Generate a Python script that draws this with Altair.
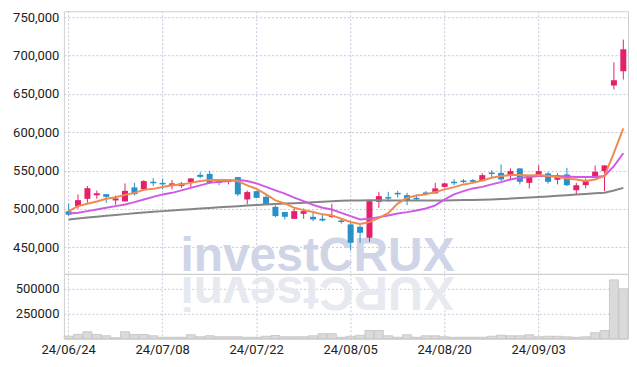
import altair as alt
import pandas as pd

dates = ["24/06/24","24/06/25","24/06/26","24/06/27","24/06/28",
         "24/07/01","24/07/02","24/07/03","24/07/04","24/07/05",
         "24/07/08","24/07/09","24/07/10","24/07/11","24/07/12",
         "24/07/15","24/07/16","24/07/17","24/07/18","24/07/19",
         "24/07/22","24/07/23","24/07/24","24/07/25","24/07/26",
         "24/07/29","24/07/30","24/07/31","24/08/01","24/08/02",
         "24/08/05","24/08/06","24/08/07","24/08/08","24/08/09",
         "24/08/12","24/08/13","24/08/14","24/08/16","24/08/19",
         "24/08/20","24/08/21","24/08/22","24/08/23","24/08/26",
         "24/08/27","24/08/28","24/08/29","24/08/30","24/09/02",
         "24/09/03","24/09/04","24/09/05","24/09/06","24/09/09",
         "24/09/10","24/09/11","24/09/12","24/09/13","24/09/19"]

opens = [497000,503700,513200,518000,519300,511100,509800,528100,525500,535500,
         534000,529800,529800,535000,544500,545800,536000,535400,541500,512400,
         523200,515800,502800,496000,487200,493700,489800,487200,489500,485000,
         479900,476800,462500,509300,515500,521000,518000,514500,521500,520300,
         528800,535500,537000,537600,536300,547500,547000,544100,552800,534000,
         544100,546300,538000,545000,524500,531000,540600,549300,660800,679400]
highs = [507000,519000,529800,524000,519300,517600,533300,534000,537600,540200,
         539500,537600,535000,540000,548000,549600,539000,538800,541500,524000,
         524000,519000,504600,496000,500200,500700,495000,493000,506700,487000,
         483000,479000,510200,522300,522300,523600,521000,518900,523300,534000,
         534500,538800,539000,539000,546700,550500,558000,552800,553600,544500,
         557100,548000,546300,553600,534000,539800,556700,557000,691100,720600]
lows = [491000,500200,508000,513200,508000,505400,509800,517600,524500,529800,
        525500,525500,527500,528500,540000,532600,531000,532000,516700,506000,
        514000,506000,489400,486400,487000,487200,484200,483800,488500,481000,
        446100,456000,457300,501500,509300,515000,505000,510500,517500,520000,
        528000,531000,533500,534500,536300,541500,536300,538500,532000,526800,
        541500,533000,532000,529800,519000,526800,540600,523200,655600,668600]
closes = [492500,511500,527100,520500,515800,513700,523600,519300,536300,533500,
          532000,533300,533300,539800,541800,534000,534000,538500,519000,522000,
          514500,506000,490700,489800,497200,497200,486400,485100,491500,483000,
          456000,469000,510200,516700,513500,519000,511100,512500,519500,526800,
          533300,533500,535000,535400,544100,545500,538500,549300,535400,544100,
          549300,535400,541500,531000,531000,536300,548400,556700,667700,708000]
volumes = [26000,43000,70000,43000,30000,10000,70000,43000,43000,30000,
           15000,15000,15000,40000,20000,30000,20000,20000,20000,15000,
           15000,25000,33000,20000,20000,20000,30000,50000,50000,15000,
           25000,35000,83000,83000,30000,15000,40000,15000,30000,30000,
           20000,15000,15000,15000,15000,25000,35000,30000,30000,40000,
           20000,25000,25000,20000,15000,20000,60000,83000,590000,500000]
ma5 = [497200,503700,506700,509800,513200,515400,518400,521000,524900,526200,
       528500,531000,532000,534000,536300,537600,537600,537600,536300,530700,
       526200,519000,511100,507200,501500,498500,496000,493000,491600,487200,
       483000,480500,483000,488500,494500,507000,514500,517600,519000,522000,
       525500,528500,532000,534000,537200,540600,543000,544100,544100,543700,
       544100,543000,541500,539800,538500,536300,538500,543000,573000,605000]
ma10 = [494200,495000,497200,499400,501500,503700,505900,508900,512400,515800,
        519000,521000,524200,527500,530700,534000,535400,536300,537600,536300,
        533300,528800,524200,520000,514800,510200,505300,501500,499400,495000,
        490700,486400,487200,489400,491600,494200,495900,498100,500700,504600,
        512400,519000,523200,526800,528800,532000,535000,538500,540600,541500,
        543000,543000,543000,542200,541500,541500,541500,543000,555800,572600]
ma60 = [486400,487600,488800,490000,491100,492200,493300,494300,495300,496300,
        497200,498100,499000,499800,500600,501400,502200,503000,503700,504400,
        505100,505800,506400,507000,507600,508200,508800,509400,510000,510600,
        511000,511200,511300,511300,511200,511100,511000,511000,511000,511100,
        511200,511400,511600,511800,512000,512400,512900,513500,514200,514900,
        515600,516400,517200,518000,518800,519600,520400,521200,524000,527500]

label_dates = ["24/06/24", "24/07/08", "24/07/22", "24/08/05", "24/08/20", "24/09/03"]
price_ticks = [450000, 500000, 550000, 600000, 650000, 700000, 750000]
volume_ticks = [250000, 500000]

RED = "#e5206a"
BLUE = "#2a90c8"
FONT = "Roboto"
GRID = "#c3c9dd"

df = pd.DataFrame({"d": dates, "o": opens, "h": highs, "l": lows, "c": closes,
                   "v": volumes, "ma5": ma5, "ma10": ma10, "ma60": ma60})
df["dir"] = ["up" if c >= o else "down" for o, c in zip(opens, closes)]
grid_df = pd.DataFrame({"d": label_dates})

W = 565
xscale = alt.Scale(type="band", domain=dates, paddingInner=0, paddingOuter=0)
color = alt.Color("dir:N", scale=alt.Scale(domain=["up", "down"], range=[RED, BLUE]), legend=None)

x_price = alt.X("d:O", scale=xscale, sort=dates, title=None, axis=None)
yscale = alt.Scale(domain=[415500, 757500], nice=False, zero=False)
y_axis = alt.Axis(values=price_ticks, format=",.0f", title=None, ticks=False, domain=False,
                  labelPadding=5, grid=True)

base = alt.Chart(df)

vgrid = alt.Chart(grid_df).mark_rule(color=GRID, strokeDash=[2, 2], strokeWidth=1).encode(x=x_price)

wm = alt.Chart(pd.DataFrame({"t": ["investCRUX"]})).mark_text(
    font="Liberation Sans", fontWeight="bold", fontSize=48, color="#cfd5e7",
    align="center", baseline="alphabetic"
).encode(x=alt.value(254), y=alt.value(260), text="t:N")

wicks = base.mark_rule(strokeWidth=1).encode(
    x=x_price, y=alt.Y("l:Q", scale=yscale, axis=y_axis), y2="h:Q", color=color)
bodies = base.mark_bar(size=6).encode(
    x=x_price, y=alt.Y("o:Q", scale=yscale, axis=y_axis), y2="c:Q", color=color)
line60 = base.mark_line(color="#858585", strokeWidth=2).encode(
    x=x_price, y=alt.Y("ma60:Q", scale=yscale, axis=y_axis))
line10 = base.mark_line(color="#cf5ae6", strokeWidth=2).encode(
    x=x_price, y=alt.Y("ma10:Q", scale=yscale, axis=y_axis))
line5 = base.mark_line(color="#f08a4f", strokeWidth=2).encode(
    x=x_price, y=alt.Y("ma5:Q", scale=yscale, axis=y_axis))

price = alt.layer(vgrid, wm, wicks, bodies, line60, line10, line5).properties(width=W, height=263)

x_vol = alt.X("d:O", scale=xscale, sort=dates, title=None,
              axis=alt.Axis(values=label_dates, labelAngle=0, ticks=False, domain=False,
                            grid=True, bandPosition=0.5, labelPadding=5))

refl = alt.Chart(pd.DataFrame({"t": ["XURCtsevni"]})).mark_text(
    font="Liberation Sans", fontWeight="bold", fontSize=48, color="#e7e9f1",
    align="center", baseline="alphabetic", angle=180
).encode(x=alt.value(254), y=alt.value(3), text="t:N")

vbars = base.mark_bar(width=alt.RelativeBandSize(0.95), fill="#dadada", stroke="#c2c2c2", strokeWidth=0.8).encode(
    x=x_vol,
    y=alt.Y("v:Q", scale=alt.Scale(domain=[0, 650000], nice=False),
            axis=alt.Axis(values=volume_ticks, format="d", title=None, ticks=False,
                          domain=False, labelPadding=5, grid=True)))

vol = alt.layer(refl, vbars).properties(width=W, height=65)

chart = alt.vconcat(price, vol, spacing=0, bounds="flush").properties(
    padding={"left": 4, "top": 2, "right": 0, "bottom": 0}
).configure_view(stroke="#cfcfcf").configure_axis(
    gridColor=GRID, gridDash=[2, 2], gridWidth=1,
    labelFont=FONT, labelFontSize=13, labelColor="#222222"
).configure_concat(spacing=0)

chart.save("out.html", embed_options={"renderer": "svg", "actions": False})
